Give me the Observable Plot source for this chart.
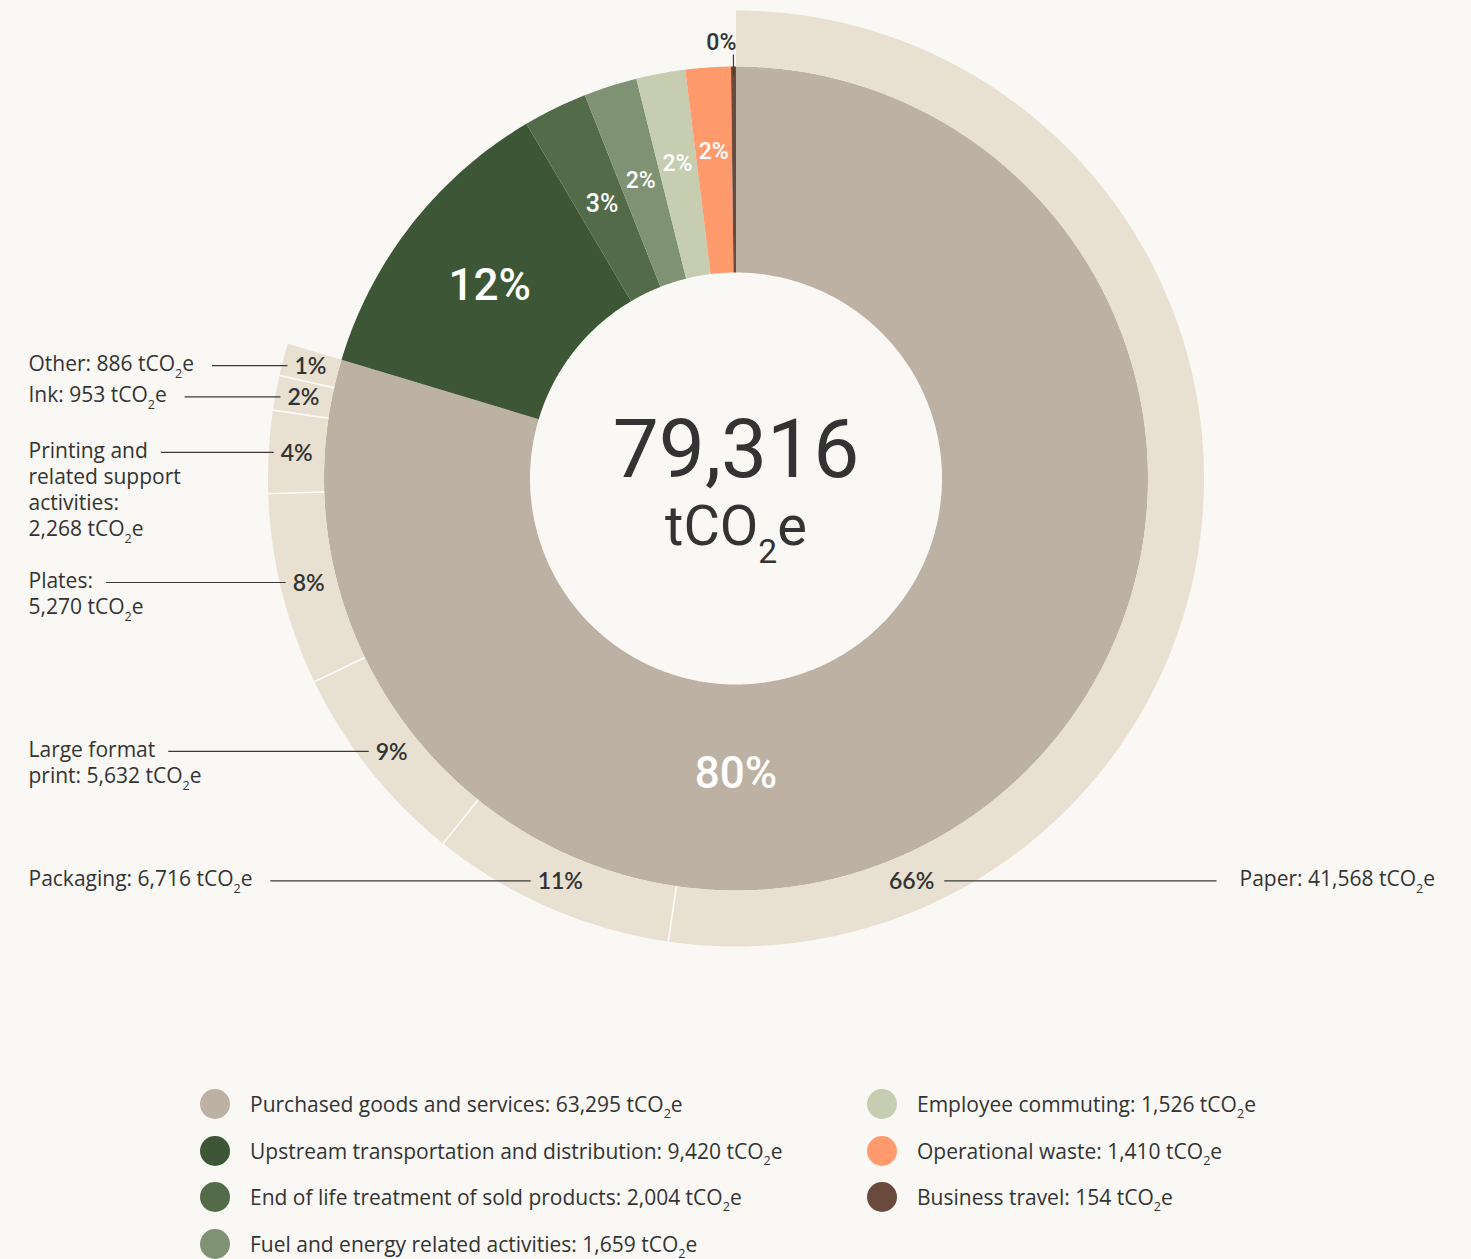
<!DOCTYPE html>
<html><head><meta charset="utf-8">
<script src="https://cdn.jsdelivr.net/npm/d3@7"></script>
<script src="https://cdn.jsdelivr.net/npm/@observablehq/plot@0.6"></script>
<style>
body{margin:0;background:#f9f8f5;font-family:"Open Sans","Noto Sans",sans-serif;color:#333;}
#chart{width:1471px;height:1000px;}
#chart svg{display:block;}
.legend{display:grid;grid-template-rows:repeat(4,46.5px);grid-auto-flow:column;grid-template-columns:667px 560px;margin-left:200px;margin-top:81px;}
.item{display:flex;align-items:center;font-size:21px;color:#333;white-space:nowrap;}
.sw{width:30px;height:30px;border-radius:50%;margin-right:20px;flex:none;}
.item sub{font-size:0.6em;vertical-align:-0.45em;line-height:0;}
</style></head><body>
<div id="chart"></div>
<div class="legend" id="legend"></div>
<script>
// ---------- data ----------
const categories = ["Purchased goods and services","Upstream transportation and distribution","End of life treatment of sold products","Fuel and energy related activities","Employee commuting","Operational waste","Business travel"];
const categoryValues = [63295, 9420, 2004, 1659, 1526, 1410, 154];
const categoryColors = ["#bdb1a3","#3d5636","#536b48","#7f9273","#c6cdb1","#ff9a6d","#6a4a3c"];
const breakdownNames = ["Paper","Packaging","Large format\nprint","Plates","Printing and\nrelated support\nactivities","Ink","Other"];
const breakdownBreakAfterColon = [false,false,false,true,true,false,false];
const breakdownValues = [41568, 6716, 5632, 5270, 2268, 953, 886];
const breakdownColor = "#e8e0d1";
const centerTotal = "79,316";
const unit = "tCO₂e";

// ---------- layout ----------
const W = 1471, H = 1000, MT = 10, MB = 54;
const R0 = 206, R1 = 412, R2 = 468;
const CX = W / 2;
const fmt = d3.format(",");

const total = d3.sum(categoryValues);
let acc = 0;
const inner = categories.map((name, i) => {
  const a0 = acc; acc += categoryValues[i] / total * 360;
  return {name, value: categoryValues[i], share: categoryValues[i] / total, a0, a1: acc, mid: (a0 + acc) / 2};
});
const span = inner[0].a1 - inner[0].a0;
const bTotal = d3.sum(breakdownValues);
acc = inner[0].a0;
const outer = breakdownNames.map((name, i) => {
  const a0 = acc; acc += breakdownValues[i] / bTotal * span;
  return {name, value: breakdownValues[i], share: breakdownValues[i] / bTotal, a0, a1: acc, mid: (a0 + acc) / 2, brk: breakdownBreakAfterColon[i]};
});

function pt(r, a) { const t = a * Math.PI / 180; return [r * Math.sin(t), -r * Math.cos(t)]; }
function ring(r0, r1, a0, a1) {
  const n = Math.max(2, Math.ceil((a1 - a0) / 0.4));
  const pts = [];
  for (let i = 0; i <= n; i++) pts.push(pt(r1, a0 + (a1 - a0) * i / n));
  for (let i = n; i >= 0; i--) pts.push(pt(r0, a0 + (a1 - a0) * i / n));
  pts.push(pts[0]);
  return pts;
}
const feature = (name, r0, r1, a0, a1) => ({type: "Feature", properties: {name}, geometry: {type: "Polygon", coordinates: [ring(r0, r1, a0, a1)]}});
const arcs = [
  ...inner.map(d => feature(d.name, R0, R1, d.a0, d.a1)),
  ...outer.map(d => feature(d.name, R1, R2, d.a0, d.a1))
];
const circlePts = d3.range(0, 361, 1).map(a => pt(R2, a));
const domainCircle = {type: "Polygon", coordinates: [circlePts]};

// separators in outer ring
const seps = outer.slice(1).map(d => { const [x1, y1] = pt(R1, d.a0), [x2, y2] = pt(R2, d.a0); return {x1, y1, x2, y2}; });

// text measure
const ctx = document.createElement("canvas").getContext("2d");
const tw = (s, font) => { ctx.font = font; return ctx.measureText(s).width; };
const pctFont = "600 23px Lato";
const sideFont = "400 21px 'Open Sans'";

// inner labels
const pct = s => Math.round(s * 100) + "%";
let smallIdx = 0;
const innerLabels = inner.filter(d => d.share >= 0.01).map(d => {
  const big = d.share > 0.1;
  let a = d.mid, r = 313;
  if (d.share > 0.5) { a = 180; r = 295; }
  else if (d.share < 0.05) { r = 305 + 7.5 * smallIdx++; }
  const [x, y] = pt(r, a);
  return {x, y, text: pct(d.share), size: big ? 44 : d.share > 0.025 ? 25 : 23};
});
const tinyInner = inner.filter(d => d.share < 0.01).map(d => {
  const [x1, y1] = pt(R1 - 10, d.mid), [x2, y2] = pt(R1 + 12, d.mid);
  const [x, y] = pt(R1 + 24, d.mid);
  return {x1, y1, x2, y2, x: x + 3, y, text: pct(d.share)};
});

// outer labels + leaders
const LR = 440;
const packMid = outer[1].mid;
const outerLabels = outer.map((d, i) => {
  const a = i === 0 ? 360 - packMid : d.mid;
  const [x, y] = pt(LR, a);
  return {...d, x, y, text: pct(d.share), right: x > 0};
});
const sideLabels = outerLabels.map(d => {
  const label = d.name + ":" + (d.brk ? "\n" : " ") + fmt(d.value) + " " + unit;
  const first = label.split("\n")[0];
  const pw = tw(d.text, pctFont);
  const ly = d.y - 1;
  if (d.right) {
    const tx = 1239 - CX;
    return {label, tx, ty: ly, lx1: d.x + pw / 2 + 10, lx2: tx - 23, ly};
  } else {
    const tx = 28 - CX;
    return {label, tx, ty: ly, lx1: tx + tw(first.replace("₂", "2"), sideFont) + 13, lx2: d.x - pw / 2 - 7, ly};
  }
});

const chart = Plot.plot({
  width: W, height: H, marginTop: MT, marginBottom: MB, marginLeft: 0, marginRight: 0,
  projection: {type: "identity", domain: domainCircle},
  color: {domain: [...categories, ...breakdownNames], range: [...categoryColors, ...breakdownNames.map(() => breakdownColor)]},
  style: {background: "transparent", overflow: "visible"},
  marks: [
    Plot.geo(arcs, {fill: d => d.properties.name}),
    Plot.link(seps, {x1: "x1", y1: "y1", x2: "x2", y2: "y2", stroke: "#fdfcfa", strokeWidth: 1.6}),
    Plot.link(sideLabels, {x1: "lx1", y1: "ly", x2: "lx2", y2: "ly", stroke: "#3a3a3a", strokeWidth: 1.2}),
    Plot.link(tinyInner, {x1: "x1", y1: "y1", x2: "x2", y2: "y2", stroke: "#3a3a3a", strokeWidth: 1.2}),
    Plot.text(innerLabels, {x: "x", y: "y", text: "text", fontSize: "size", fill: "white", fontFamily: "Roboto", fontWeight: 500}),
    Plot.text(tinyInner, {x: "x", y: "y", text: "text", fontSize: 23, fill: "#333", textAnchor: "end", fontFamily: "Roboto", fontWeight: 500}),
    Plot.text(outerLabels, {x: "x", y: "y", text: "text", fontSize: 23, fill: "#333", fontFamily: "Lato", fontWeight: 600}),
    Plot.text(sideLabels, {x: "tx", y: "ty", text: "label", textAnchor: "start", lineAnchor: "top", dy: -13, lineHeight: 1.24, fontSize: 21, fill: "#333", fontFamily: "Open Sans"}),
    Plot.text([{x: 0, y: -28, t: centerTotal}], {x: "x", y: "y", text: "t", fontSize: 82, fill: "#333", fontFamily: "Roboto", fontWeight: 400}),
    Plot.text([{x: 0, y: 49, t: unit}], {x: "x", y: "y", text: "t", fontSize: 56, fill: "#333", fontFamily: "Roboto", fontWeight: 400})
  ]
});
document.getElementById("chart").append(chart);

// subscript 2 as real text tspans
const NS = "http://www.w3.org/2000/svg";
chart.querySelectorAll("text, tspan").forEach(el => {
  for (const node of [...el.childNodes]) {
    if (node.nodeType === 3 && node.nodeValue.includes("₂")) {
      const parts = node.nodeValue.split("₂");
      const frag = document.createDocumentFragment();
      parts.forEach((p, i) => {
        if (i > 0) {
          const s = document.createElementNS(NS, "tspan");
          s.setAttribute("font-size", "0.6em");
          s.setAttribute("baseline-shift", "-0.55em");
          s.textContent = "2";
          frag.append(s);
        }
        if (p) frag.append(document.createTextNode(p));
      });
      node.replaceWith(frag);
    }
  }
});

// legend
const legend = document.getElementById("legend");
categories.forEach((c, i) => {
  const item = document.createElement("div");
  item.className = "item";
  const sw = document.createElement("span");
  sw.className = "sw"; sw.style.background = categoryColors[i];
  const txt = document.createElement("span");
  txt.innerHTML = (c + ": " + fmt(categoryValues[i]) + " " + unit).replace("₂", "<sub>2</sub>");
  item.append(sw, txt);
  legend.append(item);
});
</script></body></html>
